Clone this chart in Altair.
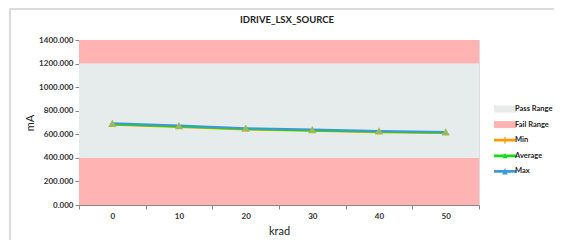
import altair as alt
import pandas as pd

# ---- data ----
krad = ["0", "10", "20", "30", "40", "50"]
min_vals = [680, 661, 641, 629, 618, 610]
avg_vals = [686, 666, 645, 633, 622, 614]
max_vals = [693, 674, 652, 640, 628, 620]

band_names = ["Fail Range", "Pass Range", "Fail Range"]
band_lo = [0, 400, 1200]
band_hi = [400, 1200, 1400]

legend_names = ["Pass Range", "Fail Range", "Min", "Average", "Max"]
legend_colors = ["#E6EBEB", "#FFB3B3", "#FF9900", "#11DD11", "#3A9AD9"]
y_ticks = [0, 200, 400, 600, 800, 1000, 1200, 1400]

# ---- tables ----
bands = pd.DataFrame({"name": band_names, "lo": band_lo, "hi": band_hi})
series = pd.DataFrame(
    {
        "krad": krad * 3,
        "name": ["Min"] * 6 + ["Average"] * 6 + ["Max"] * 6,
        "value": min_vals + avg_vals + max_vals,
        "order": [0] * 6 + [1] * 6 + [2] * 6,
    }
)
max_df = pd.DataFrame({"krad": krad, "value": max_vals})
legend_df = pd.DataFrame({"name": legend_names, "value": [-500] * 5})

rng = "M-2.2,-0.7H2.2V0.7H-2.2Z"
ln = "M-2.2,-0.28H2.2V0.28H-2.2Z"
legend_shapes = [
    rng,
    rng,
    ln + "M-0.12,-0.7H0.12V0.7H-0.12Z",
    ln + "M-0.45,0.5L0,-0.6L0.45,0.5Z",
    ln + "M-0.55,0.6L0,-0.7L0.55,0.6Z",
]

FONT = "Lato"
W, H = 400, 165

yscale = alt.Scale(domain=[0, 1400], nice=False, zero=False)
color_scale = alt.Scale(domain=legend_names, range=legend_colors)
xscale = alt.Scale(type="band", domain=krad, paddingInner=0, paddingOuter=0)

x_axis = alt.Axis(
    title="krad",
    tickBand="extent",
    labelAngle=0,
    labelFont=FONT,
    labelFontSize=8,
    labelFontWeight="bold",
    labelColor="#333333",
    labelPadding=3,
    tickSize=4,
    tickColor="#888888",
    domainColor="#888888",
    titleFont=FONT,
    titleFontSize=11,
    titleFontWeight="normal",
    titleColor="#222222",
    titlePadding=5,
    grid=False,
)
y_axis = alt.Axis(
    title="mA",
    values=y_ticks,
    format=".3f",
    labelOverlap=False,
    labelFont=FONT,
    labelFontSize=8,
    labelFontWeight="bold",
    labelColor="#333333",
    labelPadding=2,
    tickSize=4,
    tickColor="#888888",
    domainColor="#888888",
    titleFont=FONT,
    titleFontSize=11,
    titleFontWeight="normal",
    titleColor="#222222",
    titlePadding=3,
    grid=False,
)

leg = alt.Legend(
    title=None,
    orient="none",
    legendX=421,
    legendY=64,
    symbolSize=100,
    symbolType="square",
    labelFont=FONT,
    labelFontSize=7.5,
    labelFontWeight="bold",
    labelColor="#222222",
    labelOffset=5,
    rowPadding=6.6,
    symbolStrokeWidth=0,
)

frame = alt.Chart(pd.DataFrame({"f": [0]})).mark_rect(
    fill="transparent", stroke="#D0D0D0", strokeWidth=1.5, clip=False
).encode(
    x=alt.value(-69), x2=alt.value(495), y=alt.value(-31), y2=alt.value(215)
)

rects = alt.Chart(bands).mark_rect().encode(
    y=alt.Y("lo:Q", scale=yscale, axis=y_axis),
    y2="hi:Q",
    color=alt.Color("name:N", scale=color_scale, legend=leg),
)

lines = alt.Chart(series).mark_line().encode(
    x=alt.X("krad:O", scale=xscale, axis=x_axis, bandPosition=0.5, sort=krad),
    y=alt.Y("value:Q", scale=yscale, axis=y_axis),
    color=alt.Color("name:N", scale=color_scale, legend=leg),
    strokeWidth=alt.StrokeWidth(
        "name:N",
        scale=alt.Scale(domain=["Min", "Average", "Max"], range=[2, 2, 3]),
        legend=None,
    ),
    order=alt.Order("order:Q"),
    detail="name:N",
)

tris = alt.Chart(max_df).mark_point(
    shape="triangle-up", filled=True, fill="#9BBB59", opacity=1, size=70
).encode(
    x=alt.X("krad:O", scale=xscale, axis=x_axis, bandPosition=0.5, sort=krad),
    y=alt.Y("value:Q", scale=yscale, axis=y_axis),
)

legend_layer = alt.Chart(legend_df).mark_point(filled=True, clip=True, opacity=1).encode(
    y=alt.Y("value:Q", scale=yscale, axis=y_axis),
    color=alt.Color("name:N", scale=color_scale, legend=leg),
    shape=alt.Shape(
        "name:N",
        scale=alt.Scale(domain=legend_names, range=legend_shapes),
        legend=leg,
    ),
)

chart = (
    alt.layer(frame, rects, lines, tris, legend_layer)
    .properties(
        width=W,
        height=H,
        title=alt.TitleParams(
            "IDRIVE_LSX_SOURCE",
            font=FONT,
            fontSize=9.5,
            fontWeight="bold",
            color="#222222",
            anchor="middle",
            frame="group",
            offset=-16,
            dx=8,
        ),
        autosize=alt.AutoSizeParams(type="none"),
        padding={"left": 71, "top": 32, "right": 75, "bottom": 35},
    )
    .configure_view(stroke="#555555", strokeWidth=1)
    .configure(background="white")
)

chart.save("out.html", embed_options={"renderer": "svg", "actions": False})
